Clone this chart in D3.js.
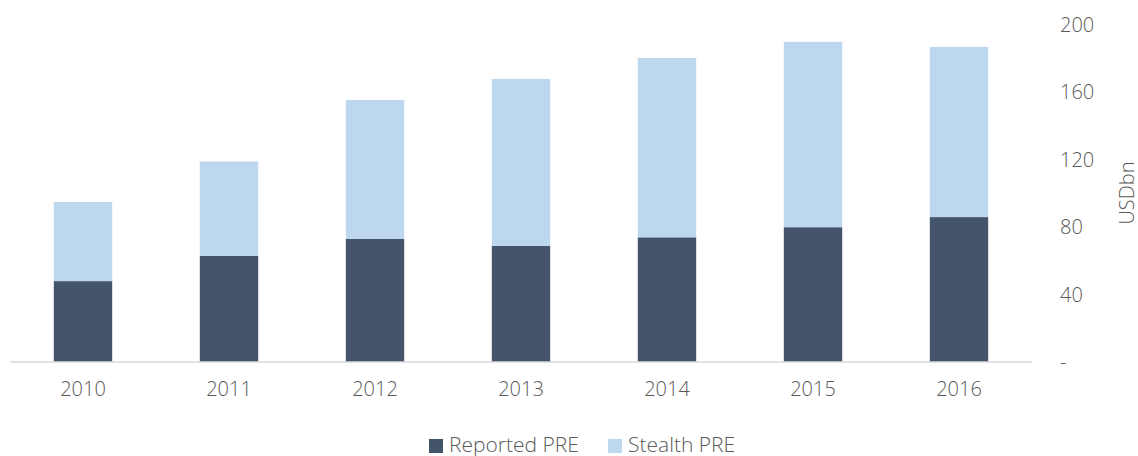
<!DOCTYPE html>
<html>
<head>
<meta charset="utf-8">
<script src="https://cdn.jsdelivr.net/npm/d3@7"></script>
<style>
  body { margin: 0; background: #fff; }
  svg text { font-family: "Open Sans", sans-serif; font-weight: 300; fill: #595959; }
</style>
</head>
<body>
<div class="chart"></div>
<script>
// values (USDbn)
const years = ["2010", "2011", "2012", "2013", "2014", "2015", "2016"];
const reported = [48, 63, 73, 69, 74, 80, 86];
const stealth = [47, 56, 82.5, 99, 106.5, 110, 101];
const yTicks = [0, 40, 80, 120, 160, 200];
const seriesNames = ["Reported PRE", "Stealth PRE"];
const colors = ["#44546a", "#bdd7ee"];

const width = 1138, height = 456;

const svg = d3.select(".chart").append("svg")
    .attr("width", width)
    .attr("height", height);

const xScale = d3.scaleBand()
    .domain(years)
    .range([10, 1032])
    .paddingInner(0.6)
    .paddingOuter(0.3);

const yScale = d3.scaleLinear()
    .domain([0, 200])
    .range([362, 25]);

const rows = years.map((y, i) => ({ year: y, reported: reported[i], stealth: stealth[i] }));
const stacked = d3.stack().keys(["reported", "stealth"])(rows);

svg.append("g")
    .selectAll("g")
    .data(stacked)
    .join("g")
    .attr("fill", (d, i) => colors[i])
    .selectAll("rect")
    .data(d => d)
    .join("rect")
    .attr("x", d => xScale(d.data.year))
    .attr("width", xScale.bandwidth())
    .attr("y", d => yScale(d[1]))
    .attr("height", d => yScale(d[0]) - yScale(d[1]));

// baseline
svg.append("line")
    .attr("x1", 10).attr("x2", 1032)
    .attr("y1", yScale(0)).attr("y2", yScale(0))
    .attr("stroke", "#d9d9d9")
    .attr("stroke-width", 1.5);

// x labels
const xAxis = d3.axisBottom(xScale).tickSize(0).tickPadding(20);
svg.append("g")
    .attr("class", "axis x-axis")
    .attr("transform", `translate(0, ${yScale(0)})`)
    .call(xAxis)
    .call(g => g.select(".domain").remove())
    .selectAll("text")
    .style("font-size", "20px")
    .attr("fill", "#595959");

// right y axis
const yAxis = d3.axisRight(yScale)
    .tickValues(yTicks)
    .tickSize(0)
    .tickPadding(3)
    .tickFormat(d => d === 0 ? "-" : d);
svg.append("g")
    .attr("class", "axis y-axis")
    .attr("transform", "translate(1057,0)")
    .call(yAxis)
    .call(g => g.select(".domain").remove())
    .selectAll("text")
    .style("font-size", "20px")
    .attr("fill", "#595959");

svg.append("text")
    .attr("transform", "translate(1134,193) rotate(-90)")
    .attr("text-anchor", "middle")
    .style("font-size", "20px")
    .text("USDbn");

// legend
const legendX = [429, 608];
const legend = svg.append("g").selectAll("g")
    .data(seriesNames)
    .join("g")
    .attr("transform", (d, i) => `translate(${legendX[i]}, 439)`);
legend.append("rect")
    .attr("width", 14).attr("height", 14)
    .attr("fill", (d, i) => colors[i]);
legend.append("text")
    .attr("x", 20).attr("y", 13)
    .style("font-size", "21px")
    .text(d => d);
</script>
</body>
</html>
